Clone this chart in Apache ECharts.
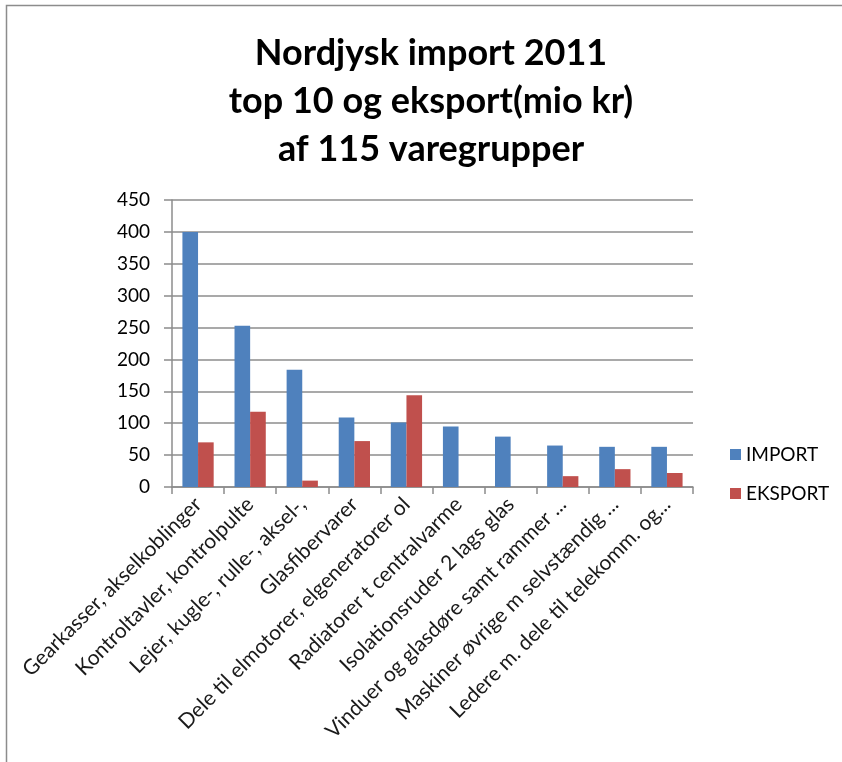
<!DOCTYPE html>
<html>
<head>
    <meta charset="utf-8">
    <title>Nordjysk import 2011</title>
    <script src="https://cdn.jsdelivr.net/npm/echarts@6/dist/echarts.min.js"></script>
    <style>
        html, body { margin: 0; padding: 0; background: #fff; }
    </style>
</head>
<body>
    <div id="chart" style="width:842px;height:762px;"></div>

    <script type="text/javascript">
        // varegrupper (labels as shown in the chart, Excel truncated some)
        var categories = [
            'Gearkasser, akselkoblinger',
            'Kontroltavler, kontrolpulte',
            'Lejer, kugle-, rulle-, aksel-,',
            'Glasfibervarer',
            'Dele til elmotorer, elgeneratorer ol',
            'Radiatorer t centralvarme',
            'Isolationsruder 2 lags glas',
            'Vinduer og glasdøre samt rammer ...',
            'Maskiner øvrige m selvstændig ...',
            'Ledere m. dele til telekomm. og...'
        ];
        var importValues = [400, 253, 184, 109, 101, 95, 79, 65, 63, 63];
        var eksportValues = [70, 118, 10, 72, 144, null, null, 17, 28, 22];
        var yTicks = { min: 0, max: 450, interval: 50 };

        var font = 'Lato, "Open Sans", sans-serif';

        var chart = echarts.init(document.getElementById('chart'));
        chart.setOption({
            animation: false,
            title: {
                text: 'Nordjysk import 2011\ntop 10 og eksport(mio kr)\naf 115 varegrupper',
                left: 426,
                top: 24,
                textAlign: 'center',
                textStyle: {
                    fontFamily: font,
                    fontWeight: 'bold',
                    fontSize: 36,
                    lineHeight: 48,
                    color: '#000'
                }
            },
            legend: {
                orient: 'vertical',
                left: 725,
                top: 440,
                itemWidth: 11,
                itemHeight: 11,
                itemGap: 20,
                icon: 'rect',
                textStyle: { fontFamily: font, fontSize: 19, color: '#000' },
                data: ['IMPORT', 'EKSPORT']
            },
            grid: {
                left: 172,
                right: 149,
                top: 200,
                bottom: 275,
                containLabel: false
            },
            xAxis: {
                type: 'category',
                data: categories,
                axisLine: { lineStyle: { color: '#8c8c8c', width: 1.5 } },
                axisTick: { show: true, alignWithLabel: false, length: 7, lineStyle: { color: '#8c8c8c', width: 1.5 } },
                axisLabel: {
                    interval: 0,
                    rotate: 45,
                    margin: 14,
                    fontFamily: font,
                    fontSize: 21,
                    color: '#1a1a1a'
                }
            },
            yAxis: {
                type: 'value',
                min: yTicks.min,
                max: yTicks.max,
                interval: yTicks.interval,
                axisLine: { show: true, lineStyle: { color: '#8c8c8c', width: 1.5 } },
                axisTick: { show: true, length: 8, lineStyle: { color: '#8c8c8c', width: 1.5 } },
                splitLine: { lineStyle: { color: '#8c8c8c', width: 1.5 } },
                axisLabel: {
                    margin: 22,
                    fontFamily: font,
                    fontSize: 19,
                    color: '#000'
                }
            },
            series: [
                {
                    name: 'IMPORT',
                    type: 'bar',
                    data: importValues,
                    barGap: '0%',
                    barCategoryGap: '40%',
                    itemStyle: { color: '#4f81bd' }
                },
                {
                    name: 'EKSPORT',
                    type: 'bar',
                    data: eksportValues,
                    itemStyle: { color: '#c0504d' }
                }
            ],
            graphic: [{
                type: 'rect',
                shape: { x: 6.5, y: 5.5, width: 900, height: 800 },
                style: { fill: 'none', stroke: '#8c8c8c', lineWidth: 1.5 },
                silent: true
            }]
        });
    </script>
</body>
</html>
